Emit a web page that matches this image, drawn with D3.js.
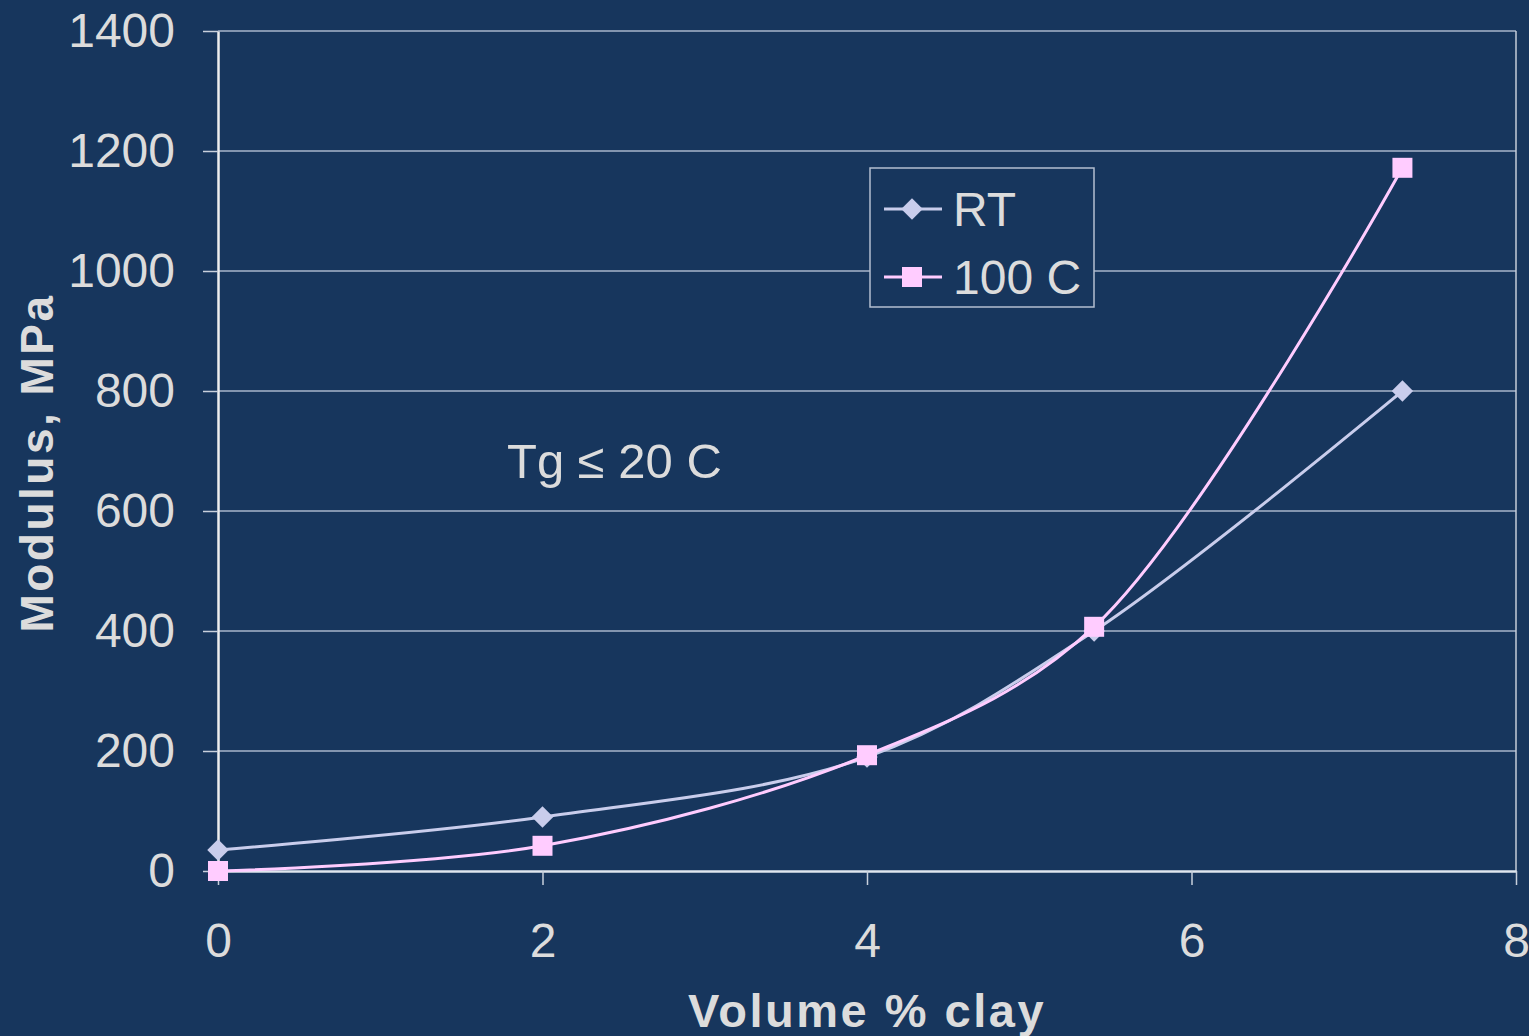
<!DOCTYPE html>
<html>
<head>
<meta charset="utf-8">
<script src="https://cdn.jsdelivr.net/npm/d3@7"></script>
<style>
  html, body { margin: 0; padding: 0; background: #17365d; }
  svg { display: block; }
</style>
</head>
<body>
<div id="chart"></div>
<script>
// Clay loading (volume %) and measured tensile modulus (MPa)
const clayVol = [0, 2, 4, 5.4, 7.3];
const modulusRT = [35, 90, 190, 400, 800];
const modulus100C = [0, 42, 193, 407, 1172];
const seriesNames = ["RT", "100 C"];
const yTicks = [0, 200, 400, 600, 800, 1000, 1200, 1400];
const xTicks = [0, 2, 4, 6, 8];

const W = 1529, H = 1036;
const margin = { left: 218, right: 13, top: 31, bottom: 165 };
const bg = "#17365d";
const textColor = "#dcdcdc";
const font = "'Liberation Sans', Arial, sans-serif";
const colors = { RT: "#c9cdec", "100 C": "#ffccff" };

const svg = d3.select("#chart").append("svg")
  .attr("width", W).attr("height", H);

svg.append("rect").attr("width", W).attr("height", H).attr("fill", bg);

const x = d3.scaleLinear().domain([0, 8]).range([margin.left, W - margin.right]);
const y = d3.scaleLinear().domain([0, 1400]).range([H - margin.bottom, margin.top]);

// horizontal gridlines
svg.append("g").selectAll("line").data(yTicks.filter(d => d > 0)).join("line")
  .attr("x1", x(0)).attr("x2", x(8))
  .attr("y1", d => y(d)).attr("y2", d => y(d))
  .attr("stroke", "#a9b6cb").attr("stroke-width", 1.5);

// right border of the plot area
svg.append("line")
  .attr("x1", x(8)).attr("x2", x(8)).attr("y1", y(1400)).attr("y2", y(0))
  .attr("stroke", "#c4ccd8").attr("stroke-width", 1.5);

// y axis
const yAxis = svg.append("g")
  .attr("transform", `translate(${x(0)},0)`)
  .call(d3.axisLeft(y).tickValues(yTicks).tickFormat(d3.format("d"))
    .tickSize(15).tickPadding(28).tickSizeOuter(0));
yAxis.select(".domain").attr("stroke", "#eeeeee").attr("stroke-width", 2.5);
yAxis.selectAll(".tick line").attr("stroke", "#c8d0dc").attr("stroke-width", 1.5);
yAxis.selectAll(".tick text")
  .attr("fill", textColor).attr("font-family", font).attr("font-size", 48);

// x axis
const xAxis = svg.append("g")
  .attr("transform", `translate(0,${y(0)})`)
  .call(d3.axisBottom(x).tickValues(xTicks).tickSize(14).tickPadding(38).tickSizeOuter(0));
xAxis.select(".domain").attr("stroke", "#dfe6ee").attr("stroke-width", 2.5);
xAxis.selectAll(".tick line").attr("stroke", "#c8d0dc").attr("stroke-width", 1.5);
xAxis.selectAll(".tick text")
  .attr("fill", textColor).attr("font-family", font).attr("font-size", 48);

// axis titles
svg.append("text")
  .attr("x", x(4)).attr("y", 1027)
  .attr("text-anchor", "middle")
  .attr("fill", textColor).attr("font-family", font)
  .attr("font-size", 47).attr("font-weight", "bold").attr("letter-spacing", 2.5)
  .text("Volume % clay");

svg.append("text")
  .attr("transform", `translate(53,${(y(0) + y(1400)) / 2 + 12}) rotate(-90)`)
  .attr("text-anchor", "middle")
  .attr("fill", textColor).attr("font-family", font)
  .attr("font-size", 46).attr("font-weight", "bold").attr("letter-spacing", 2.5)
  .text("Modulus, MPa");

// annotation
svg.append("text")
  .attr("x", 507).attr("y", 478)
  .attr("fill", textColor).attr("font-family", font).attr("font-size", 49)
  .text("Tg ≤ 20 C");

// series: diamond is a square turned by 45 degrees
const series = [
  { name: "RT", values: modulusRT, shape: d3.symbolSquare, size: 230, rot: 45 },
  { name: "100 C", values: modulus100C, shape: d3.symbolSquare, size: 400, rot: 0 }
];

const line = d3.line()
  .x(d => x(d[0])).y(d => y(d[1]))
  .curve(d3.curveCatmullRom.alpha(0.5));

series.forEach(s => {
  const pts = clayVol.map((v, i) => [v, s.values[i]]);
  svg.append("path")
    .datum(pts)
    .attr("d", line)
    .attr("fill", "none")
    .attr("stroke", colors[s.name])
    .attr("stroke-width", 3);
  svg.append("g").selectAll("path").data(pts).join("path")
    .attr("transform", d => `translate(${x(d[0])},${y(d[1])}) rotate(${s.rot})`)
    .attr("d", d3.symbol().type(s.shape).size(s.size))
    .attr("fill", colors[s.name]);
});

// legend
const lg = svg.append("g").attr("transform", "translate(870,168)");
lg.append("rect")
  .attr("width", 224).attr("height", 139)
  .attr("fill", bg).attr("stroke", "#b4bfd0").attr("stroke-width", 1.5);
series.forEach((s, i) => {
  const cy = 41 + i * 68;
  lg.append("line")
    .attr("x1", 14).attr("x2", 72).attr("y1", cy).attr("y2", cy)
    .attr("stroke", colors[s.name]).attr("stroke-width", 3);
  lg.append("path")
    .attr("transform", `translate(42,${cy}) rotate(${s.rot})`)
    .attr("d", d3.symbol().type(s.shape).size(s.size))
    .attr("fill", colors[s.name]);
  lg.append("text")
    .attr("x", 83).attr("y", cy + 17)
    .attr("fill", textColor).attr("font-family", font).attr("font-size", 48)
    .text(s.name);
});
</script>
</body>
</html>
